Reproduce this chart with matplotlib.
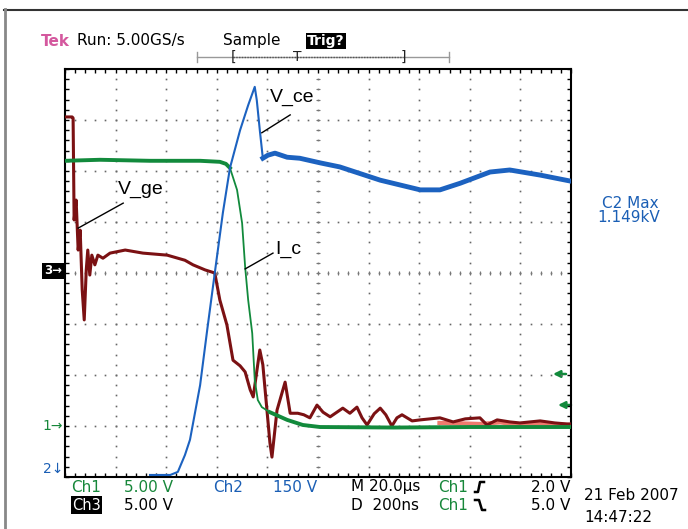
import numpy as np
import matplotlib.pyplot as plt

# Values are in screen divisions (10 x 8 graticule, origin bottom-left)

# Ch3: V_ge
vge_x = [0.00, 0.14, 0.16, 0.18, 0.22, 0.26, 0.30, 0.34, 0.38, 0.42, 0.45, 0.49,
         0.53, 0.59, 0.65, 0.75, 0.89, 1.19, 1.54, 2.02, 2.37, 2.53, 2.77, 2.96,
         3.06, 3.20, 3.32, 3.46, 3.56, 3.66, 3.72, 3.78, 3.85, 3.91, 3.95, 4.05,
         4.09, 4.19, 4.35, 4.45, 4.60, 4.72, 4.84, 4.98, 5.10, 5.24, 5.49, 5.63,
         5.77, 5.87, 5.97, 6.11, 6.23, 6.34, 6.46, 6.56, 6.66, 6.86, 7.02, 7.41,
         7.67, 7.91, 8.20, 8.34, 8.54, 8.79, 8.99, 9.39, 9.68, 9.92, 10.0]
vge_y = [7.06, 7.06, 7.04, 5.04, 5.43, 4.45, 4.84, 3.67, 3.08, 4.06, 4.45, 3.96,
         4.35, 4.16, 4.35, 4.29, 4.39, 4.45, 4.39, 4.35, 4.25, 4.16, 4.06, 4.00,
         3.47, 2.98, 2.29, 2.18, 2.06, 1.71, 1.57, 2.00, 2.49, 2.20, 1.76, 0.67,
         0.39, 1.31, 1.86, 1.25, 1.25, 1.22, 1.16, 1.41, 1.27, 1.18, 1.35, 1.25,
         1.37, 1.16, 1.02, 1.24, 1.35, 1.22, 1.00, 1.16, 1.22, 1.10, 1.12, 1.16,
         1.08, 1.14, 1.16, 1.02, 1.12, 1.08, 1.06, 1.10, 1.06, 1.04, 1.04]

# lighter overlap band under V_ge at the tail
tail_x = [7.40, 7.90, 8.20, 8.60, 9.00, 9.40, 9.70, 10.0]
tail_y = [1.06, 1.05, 1.04, 1.07, 1.02, 1.05, 1.03, 1.02]

# Ch1: I_c
ic_flat_x = [0.00, 0.69, 1.68, 2.67, 3.06, 3.18, 3.26]
ic_flat_y = [6.20, 6.22, 6.20, 6.20, 6.18, 6.14, 6.06]
ic_fall_x = [3.26, 3.40, 3.50, 3.56, 3.62, 3.70, 3.75, 3.81, 3.89, 4.05]
ic_fall_y = [6.06, 5.63, 4.98, 4.12, 3.47, 2.82, 1.90, 1.51, 1.37, 1.27]
ic_tail_x = [4.05, 4.39, 4.70, 5.04, 6.50, 8.00, 10.0]
ic_tail_y = [1.27, 1.12, 1.02, 0.98, 0.97, 0.98, 0.98]

# Ch2: V_ce
vce_rise_x = [1.68, 2.08, 2.23, 2.37, 2.47, 2.67, 2.81, 2.96, 3.12, 3.26, 3.46,
              3.62, 3.75, 3.79, 3.85, 3.91]
vce_rise_y = [0.04, 0.04, 0.10, 0.43, 0.73, 1.80, 2.88, 4.00, 5.18, 6.06, 6.80,
              7.29, 7.65, 7.39, 6.80, 6.25]
vce_ring_x = [3.91, 4.01, 4.15, 4.39, 4.64, 5.04, 5.43, 6.23, 7.02, 7.41, 7.81,
              8.40, 8.79, 9.39, 10.0]
vce_ring_y = [6.25, 6.31, 6.35, 6.27, 6.25, 6.16, 6.08, 5.82, 5.63, 5.63, 5.76,
              5.98, 6.02, 5.92, 5.80]

RED = "#7b1113"
SALMON = "#ee7b6e"
GREEN = "#128a3c"
BLUE = "#1c62c0"
TGREEN = "#17873a"
TBLUE = "#1b5fb5"
PINK = "#d4589e"

plt.rcParams["font.family"] = ["DejaVu Sans"]

fig = plt.figure(figsize=(6.88, 5.29), dpi=100)

# Pixel overlay for the scope's text and frame
ov = fig.add_axes([0, 0, 1, 1], zorder=0)
ov.set_xlim(0, 688)
ov.set_ylim(529, 0)
ov.axis("off")

ax = fig.add_axes([65 / 688, 52 / 529, 506 / 688, 408 / 529], zorder=1)
ax.patch.set_alpha(0)
ax.set_xlim(0, 10)
ax.set_ylim(0, 8)
ax.set_xticks(np.arange(0, 10.01, 0.2))
ax.set_yticks(np.arange(0, 8.01, 0.2))
ax.tick_params(direction="in", length=3, width=1, top=True, right=True,
               labelbottom=False, labelleft=False)
for side in ax.spines.values():
    side.set_linewidth(1.5)

# Graticule dots
fine_y = np.arange(0.2, 8.0, 0.2)
fine_x = np.arange(0.2, 10.0, 0.2)
for gx in range(1, 10):
    ax.plot(np.full(len(fine_y), gx), fine_y, ls="none", marker="s",
            ms=1.2, color="#666666", mew=0)
for gy in range(1, 8):
    ax.plot(fine_x, np.full(len(fine_x), gy), ls="none", marker="s",
            ms=1.2, color="#666666", mew=0)
# Center cross ticks
ax.plot(fine_x, np.full(len(fine_x), 4), ls="none", marker="|", ms=2.5,
        color="#777777", mew=0.8)
ax.plot(np.full(len(fine_y), 5), fine_y, ls="none", marker="_", ms=2.5,
        color="#777777", mew=0.8)

# Traces
ax.plot(tail_x, tail_y, color=SALMON, lw=3, zorder=3)
ax.plot(vge_x, vge_y, color=RED, lw=2.2, zorder=4)
ax.plot(ic_flat_x, ic_flat_y, color=GREEN, lw=2.8, zorder=5)
ax.plot(ic_fall_x, ic_fall_y, color=GREEN, lw=1.3, zorder=5)
ax.plot(ic_tail_x, ic_tail_y, color=GREEN, lw=2.8, zorder=5)
ax.plot(vce_rise_x, vce_rise_y, color=BLUE, lw=1.5, zorder=6)
ax.plot(vce_ring_x, vce_ring_y, color=BLUE, lw=3.5, zorder=6)

# Trace labels with pointer lines
ax.text(4.05, 7.45, "V_ce", fontsize=14, family="Liberation Sans", va="center", zorder=7)
ax.plot([4.45, 3.89], [7.10, 6.75], color="black", lw=1, zorder=7)
ax.text(1.05, 5.63, "V_ge", fontsize=14, family="Liberation Sans", va="center", zorder=7)
ax.plot([1.15, 0.26], [5.37, 4.88], color="black", lw=1, zorder=7)
ax.text(4.15, 4.47, "I_c", fontsize=14, family="Liberation Sans", va="center", zorder=7)
ax.plot([4.11, 3.56], [4.39, 4.08], color="black", lw=1, zorder=7)

# Outer frame
ov.plot([4, 688], [9.5, 9.5], color="#333333", lw=1.5)
ov.plot([4.5, 4.5], [9, 529], color="#888888", lw=2)

# Header
ov.text(41, 41, "Tek", color=PINK, fontsize=11, fontweight="bold", va="center")
ov.text(77, 41, "Run: 5.00GS/s", color="black", fontsize=11, va="center")
ov.text(223, 41, "Sample", color="black", fontsize=11, va="center")
ov.text(307, 41, "Trig?", color="white", fontsize=10, fontweight="bold", va="center",
        bbox=dict(facecolor="black", edgecolor="none", pad=1))
ov.plot([197, 449], [57, 57], color="#999999", lw=1)
ov.plot([233, 403], [57, 57], color="#555555", lw=1, ls=(0, (1, 1)))
ov.plot([197, 197], [52, 62], color="#999999", lw=1)
ov.plot([449, 449], [52, 62], color="#999999", lw=1)
ov.text(233, 57, "[", fontsize=10, ha="center", va="center", color="#222222")
ov.text(297, 57, "T", fontsize=10, ha="center", va="center", color="#222222")
ov.text(403, 57, "]", fontsize=10, ha="center", va="center", color="#222222")

# Channel markers
ov.text(62, 271, "3→", color="white", fontsize=8.5, fontweight="bold", ha="right",
        va="center", bbox=dict(facecolor="black", edgecolor="none", pad=1.2))
ov.text(63, 426, "1→", color=TGREEN, fontsize=10, ha="right", va="center")
ov.text(63, 469, "2↓", color=TBLUE, fontsize=10, ha="right", va="center")
for ay, axx in [(374, 553), (405, 558)]:
    ov.annotate("", xy=(axx, ay), xytext=(axx + 13, ay),
                arrowprops=dict(arrowstyle="-|>", color=GREEN, lw=1.8,
                                mutation_scale=10, shrinkA=0, shrinkB=0))

# Measurement readout
ov.text(630, 203, "C2 Max", color=TBLUE, fontsize=11, ha="center", va="center")
ov.text(629, 218, "1.149kV", color=TBLUE, fontsize=11, ha="center", va="center")

# Bottom status lines
r1, r2 = 487, 505
ov.text(71, r1, "Ch1", color=TGREEN, fontsize=11, va="center")
ov.text(124, r1, "5.00 V", color=TGREEN, fontsize=11, va="center")
ov.text(213, r1, "Ch2", color=TBLUE, fontsize=11, va="center")
ov.text(273, r1, "150 V", color=TBLUE, fontsize=11, va="center")
ov.text(351, r1, "M 20.0µs", color="black", fontsize=11, va="center")
ov.text(438, r1, "Ch1", color=TGREEN, fontsize=11, va="center")
ov.text(531, r1, "2.0 V", color="black", fontsize=11, va="center")
ov.text(72, r2, "Ch3", color="white", fontsize=10.5, va="center",
        bbox=dict(facecolor="black", edgecolor="none", pad=1))
ov.text(124, r2, "5.00 V", color="black", fontsize=11, va="center")
ov.text(351, r2, "D  200ns", color="black", fontsize=11, va="center")
ov.text(438, r2, "Ch1", color=TGREEN, fontsize=11, va="center")
ov.text(531, r2, "5.0 V", color="black", fontsize=11, va="center")
ov.plot([475, 478, 480, 484], [r1 + 5, r1 + 5, r1 - 5, r1 - 5], color="black", lw=1.8)
ov.plot([475, 479, 482, 485], [r2 - 5, r2 - 5, r2 + 5, r2 + 5], color="black", lw=1.8)
ov.text(584, 495, "21 Feb 2007", color="black", fontsize=11, va="center")
ov.text(584, 517, "14:47:22", color="black", fontsize=11, va="center")

fig.savefig("out.png", dpi=100)
